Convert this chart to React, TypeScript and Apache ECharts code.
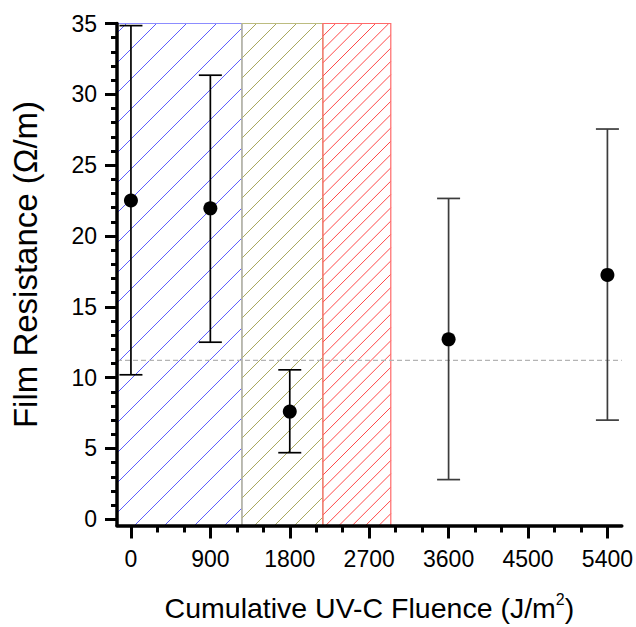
import React, { useEffect, useRef } from "react";
import * as echarts from "echarts";

// ---- data ----
const X_TICKS = [0, 900, 1800, 2700, 3600, 4500, 5400];
const Y_TICKS = [0, 5, 10, 15, 20, 25, 30, 35];
const FLUENCE = [0, 900, 1800, 3600, 5400];
const RESISTANCE = [22.5, 21.95, 7.6, 12.7, 17.25];
const ERR_LOW = [10.2, 12.5, 4.7, 2.8, 7.0];
const ERR_HIGH = [34.85, 31.35, 10.55, 22.65, 27.55];
const REGION_START = [-158, 1258, 2175];
const REGION_END = [1258, 2175, 2945];
const THRESHOLD = 11.22;

// ---- axis extents / styles ----
const X_MIN = -158;
const X_MAX = 5563;
const Y_MIN = -0.44;
const Y_MAX = 35;
const X_MINOR_STEP = 300;
const Y_MINOR_STEP = 1;

const HATCH_COLORS = ["#5c5cff", "#a8a860", "#ff4848"];
const BORDER_COLORS = ["#8c8cff", "#bcbc80", "#ff6a6a"];
const HATCH_PERIOD = [30, 20, 13.3];
const ERR_COLORS = ["#000000", "#000000", "#000000", "#3c3c3c", "#3c3c3c"];
const FONT = "'Liberation Sans', Arial, sans-serif";

function minorTicks(min: number, max: number, step: number) {
  const out: number[] = [];
  const start = Math.ceil(min / step) * step;
  for (let v = start; v <= max + 1e-9; v += step) out.push(Math.round(v * 1000) / 1000);
  return out;
}

export default function App() {
  const ref = useRef<HTMLDivElement>(null);
  useEffect(() => {
    if (!ref.current) return;
    const chart = echarts.init(ref.current, null, { renderer: "svg" });

    const regionData = REGION_START.map((s, i) => [s, REGION_END[i]]);
    const errData = FLUENCE.map((x, i) => [x, ERR_LOW[i], ERR_HIGH[i]]);
    const pointData = FLUENCE.map((x, i) => [x, RESISTANCE[i]]);

    const option: any = {
      animation: false,
      backgroundColor: "#ffffff",
      grid: { left: 117, right: 11, top: 23.5, bottom: 98, containLabel: false },
      xAxis: [
        {
          type: "value",
          min: X_MIN,
          max: X_MAX,
          z: 10,
          axisLine: { show: true, onZero: false, lineStyle: { color: "#000", width: 3.5 } },
          axisTick: { show: true, customValues: X_TICKS, length: 13, lineStyle: { color: "#000", width: 3 } },
          axisLabel: {
            customValues: X_TICKS,
            margin: 22,
            fontSize: 23,
            color: "#000",
            fontFamily: FONT,
            formatter: (v: number) => String(v),
          },
          splitLine: { show: false },
          name: "{t|Cumulative UV-C Fluence (J/m}{s|2}{t|)}",
          nameLocation: "middle",
          nameGap: 66,
          nameTextStyle: {
            rich: {
              t: { fontSize: 28.5, fontFamily: FONT, color: "#000", lineHeight: 32 },
              s: { fontSize: 16, fontFamily: FONT, color: "#000", verticalAlign: "top", lineHeight: 16 },
            },
          },
        },
        {
          type: "value",
          min: X_MIN,
          max: X_MAX,
          position: "bottom",
          z: 10,
          axisLine: { show: false, onZero: false },
          axisTick: { show: true, customValues: minorTicks(0, X_MAX, X_MINOR_STEP), length: 7, lineStyle: { color: "#000", width: 3 } },
          axisLabel: { show: false },
          splitLine: { show: false },
        },
      ],
      yAxis: [
        {
          type: "value",
          min: Y_MIN,
          max: Y_MAX,
          z: 10,
          axisLine: { show: true, onZero: false, lineStyle: { color: "#000", width: 3.5 } },
          axisTick: { show: true, customValues: Y_TICKS, length: 12, lineStyle: { color: "#000", width: 3 } },
          axisLabel: { customValues: Y_TICKS, margin: 20, fontSize: 23, color: "#000", fontFamily: FONT },
          splitLine: { show: false },
          name: "Film Resistance (Ω/m)",
          nameLocation: "middle",
          nameRotate: 90,
          nameGap: 75,
          nameTextStyle: { fontSize: 33, fontFamily: FONT, color: "#000", padding: [0, 0, 0, 20] },
        },
        {
          type: "value",
          min: Y_MIN,
          max: Y_MAX,
          position: "left",
          z: 10,
          axisLine: { show: false, onZero: false },
          axisTick: { show: true, customValues: minorTicks(0, Y_MAX, Y_MINOR_STEP), length: 6, lineStyle: { color: "#000", width: 3 } },
          axisLabel: { show: false },
          splitLine: { show: false },
        },
      ],
      series: [
        {
          type: "custom",
          z: 1,
          silent: true,
          clip: false,
          data: regionData,
          encode: { x: [0, 1] },
          renderItem: (params: any, api: any) => {
            const i = params.dataIndex;
            const p0 = api.coord([api.value(0), Y_MAX]);
            const p1 = api.coord([api.value(1), Y_MIN]);
            const left = p0[0], top = p0[1], right = p1[0], bottom = p1[1];
            const period = HATCH_PERIOD[i];
            const children: any[] = [];
            const cStart = Math.ceil((left + top) / period) * period;
            for (let c = cStart; c <= right + bottom; c += period) {
              const xa = Math.max(left, c - bottom);
              const xb = Math.min(right, c - top);
              if (xb <= xa) continue;
              children.push({
                type: "line",
                shape: { x1: xa, y1: c - xa, x2: xb, y2: c - xb },
                style: { stroke: HATCH_COLORS[i], lineWidth: 1 },
              });
            }
            children.push({
              type: "rect",
              shape: { x: left, y: top, width: right - left, height: bottom - top },
              style: { fill: "none", stroke: BORDER_COLORS[i], lineWidth: 1.2 },
            });
            return { type: "group", children };
          },
        },
        {
          type: "line",
          z: 3,
          silent: true,
          symbol: "none",
          data: [[X_MIN, THRESHOLD], [X_MAX, THRESHOLD]],
          lineStyle: { color: "#b4b4b4", width: 1.2, type: [5, 3] },
        },
        {
          type: "custom",
          z: 4,
          silent: true,
          clip: false,
          data: errData,
          encode: { x: 0, y: [1, 2] },
          renderItem: (params: any, api: any) => {
            const i = params.dataIndex;
            const x = api.value(0);
            const pLo = api.coord([x, api.value(1)]);
            const pHi = api.coord([x, api.value(2)]);
            const st = { stroke: ERR_COLORS[i], lineWidth: 1.7 };
            const hw = 11.5;
            return {
              type: "group",
              children: [
                { type: "line", shape: { x1: pHi[0], y1: pHi[1], x2: pLo[0], y2: pLo[1] }, style: { ...st } },
                { type: "line", shape: { x1: pHi[0] - hw, y1: pHi[1], x2: pHi[0] + hw, y2: pHi[1] }, style: { ...st } },
                { type: "line", shape: { x1: pLo[0] - hw, y1: pLo[1], x2: pLo[0] + hw, y2: pLo[1] }, style: { ...st } },
              ],
            };
          },
        },
        {
          type: "scatter",
          z: 5,
          symbol: "circle",
          symbolSize: 14,
          itemStyle: { color: "#000", opacity: 1 },
          data: pointData,
        },
      ],
    };
    chart.setOption(option);
    return () => chart.dispose();
  }, []);
  return <div ref={ref} style={{ position: "fixed", left: 0, top: 0, width: 636, height: 627 }} />;
}
